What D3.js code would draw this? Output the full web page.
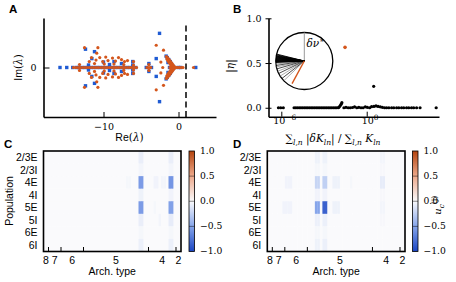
<!DOCTYPE html>
<html><head><meta charset="utf-8">
<script src="https://cdn.jsdelivr.net/npm/d3@7"></script>
<style>body{margin:0;background:#fff}svg{display:block}</style>
</head><body>
<svg id="c" width="456" height="282"></svg>
<script>
// ---------------- DATA ----------------
// Panel A: eigenvalues [Re, Im]
const eigOriginal = [ // blue squares
 [-15.8,0],[-14.9,0],[-14.1,0],[-13.6,0],[-13.3,0],[-12.9,0],[-12.5,0],[-12.1,0],[-11.7,0],[-11.3,0],[-10.9,0],[-10.5,0],[-10.1,0],[-9.7,0],[-9.3,0],[-8.9,0],[-8.5,0],[-8.1,0],[-7.7,0],[-7.3,0],[-6.9,0],[-6.5,0],[-6.1,0],[-5.7,0],
 [-12.4,0.37],[-12.4,-0.37],[-11.2,0.32],[-11.2,-0.32],[-11.55,0.18],[-11.55,-0.18],[-12.0,0.05],[-12.0,-0.05],
 [-10.0,0.11],[-10.0,-0.11],[-8.6,0.12],[-8.6,-0.12],[-9.2,0.06],[-9.2,-0.06],[-7.6,0.08],[-7.6,-0.08],
 [-6.1,0.12],[-6.1,-0.12],[-6.1,0.05],[-6.1,-0.05],
 [-4.3,0],[-3.6,0],[-3.95,0.08],[-3.95,-0.08],[-2.53,0.69],[-2.53,-0.69],[-2.97,0.18],[-2.97,-0.18],[2.3,0],
 [-1.65,0.23],[-1.65,-0.23],[-1.5,0.2],[-1.5,-0.2],[-1.3,0.16],[-1.3,-0.16],[-1.1,0.12],[-1.1,-0.12],
 [-0.95,0.08],[-0.95,-0.08],[-0.8,0.04],[-0.8,-0.04],[-0.5,0],[-0.8,0],[-1.2,0],[-1.4,0.1],[-1.4,-0.1],[0.0,0],[0.3,0]
];
const eigPerturbed = [ // orange circles
 [-14.0,0],[-13.7,0],[-13.4,0],[-13.1,0],[-12.8,0],[-12.5,0],[-12.2,0],[-11.9,0],[-11.6,0],[-11.3,0],[-11.0,0],[-10.7,0],[-10.4,0],[-10.1,0],[-9.8,0],[-9.5,0],[-9.2,0],[-8.9,0],[-8.6,0],[-8.3,0],[-8.0,0],[-7.7,0],[-7.4,0],[-7.1,0],[-6.8,0],[-6.5,0],[-6.2,0],[-5.9,0],[-5.6,0],
 [-13.2,0.06],[-13.2,-0.06],[-12.53,0.40],[-12.53,-0.40],[-10.75,0.40],[-10.75,-0.40],[-10.9,0.29],[-10.9,-0.29],
 [-11.9,0.12],[-11.9,-0.12],[-11.6,0.2],[-11.6,-0.2],[-11.0,0.15],[-11.0,-0.15],[-10.5,0.2],[-10.5,-0.2],
 [-10.1,0.12],[-10.1,-0.12],[-9.7,0.21],[-9.7,-0.21],[-9.4,0.14],[-9.4,-0.14],[-8.8,0.19],[-8.8,-0.19],
 [-8.4,0.13],[-8.4,-0.13],[-8.0,0.2],[-8.0,-0.2],[-7.6,0.16],[-7.6,-0.16],[-7.2,0.12],[-7.2,-0.12],
 [-6.8,0.14],[-6.8,-0.14],[-6.0,0.12],[-6.0,-0.12],[-11.2,0.08],[-11.2,-0.08],[-9.9,0.07],[-9.9,-0.07],
 [-8.6,0.07],[-8.6,-0.07],[-7.3,0.06],[-7.3,-0.06],[-6.0,0.05],[-6.0,-0.05],
 [-4.2,0],[-3.95,0],[-3.7,0],[-3.95,0.06],[-3.95,-0.06],
 [-2.97,0.45],[-2.97,-0.45],[-2.0,0.35],[-2.0,-0.36],[-2.35,0.11],[-2.35,-0.11],[-2.1,0],[2.0,0],
 [-1.62,0.22],[-1.62,-0.22],[-1.48,0.2],[-1.48,-0.2],[-1.38,0.18],[-1.38,-0.18],[-1.55,0.17],[-1.55,-0.17],
 [-1.28,0.16],[-1.28,-0.16],[-1.42,0.14],[-1.42,-0.14],[-1.18,0.14],[-1.18,-0.14],[-1.08,0.12],[-1.08,-0.12],
 [-1.3,0.11],[-1.3,-0.11],[-0.98,0.1],[-0.98,-0.1],[-1.18,0.09],[-1.18,-0.09],[-0.88,0.08],[-0.88,-0.08],
 [-0.78,0.06],[-0.78,-0.06],[-1.05,0.06],[-1.05,-0.06],[-0.68,0.04],[-0.68,-0.04],[-0.95,0.03],[-0.95,-0.03],
 [-0.55,0.02],[-0.55,-0.02],[-0.45,0],[-0.7,0],[-0.95,0],[-1.15,0],
 [-0.3,0],[-0.1,0],[0.15,0],[0.4,0],[0.6,0]
];
const reLim = [-18, 5], imLim = [-1, 1];
const reTicks = [-10, 0], imTicks = [0];
const stabilityLine = 1;

// Panel B: [relative change, |eta|]
const etaPoints = [
 [6.3e-7,0],[9.1e-7,0],[1.38e-6,0],
 [7.9e-6,0],[1.05e-5,0],[1.38e-5,0],[1.82e-5,0],[2.4e-5,0],[3.16e-5,0],[4.17e-5,0],[5.5e-5,0],[7.24e-5,0],[9.55e-5,0],
 [1.26e-4,0],[1.66e-4,0],[2.19e-4,0],[2.88e-4,0],[3.8e-4,0],[5.0e-4,0],[6.6e-4,0],[8.7e-4,0],[1.15e-3,0],[1.51e-3,0],
 [2.0e-3,0],[2.63e-3,0],[3.47e-3,0],[4.57e-3,0],[6.03e-3,0],[7.94e-3,0],[1.05e-2,0.002],
 [1.2e-2,0.01],[1.4e-2,0.025],[1.6e-2,0.04],[1.8e-2,0.057],
 [2.5e-2,0],[3.5e-2,0.005],[5e-2,0],[7e-2,0],[0.1,0.003],[0.14,0.01],[0.2,0],[0.28,0.005],[0.4,0],[0.56,0],
 [0.8,0.01],[1.1,0.005],[1.6,0],[2.2,0.012],[3.2,0.015],[4.5,0.02],[6.3,0.015],[9,0.01],[12.6,0.005],[18,0],
 [25,0],[36,0],[56,0],[80,0],[126,0],[180,0],[280,0],[400,0],[630,0],[900,0],[1400,0],[2000,0],[3200,0],[5600,0],
 [7.6e4,0],[3.1,0.24]
];
const etaHighlight = [[0.030,0.675]];
const relLim = [1.26e-7, 1.2e5], etaLim = [-0.1, 1.0];
const relTicks = [1e-6, 1], etaTicks = [0, 0.5, 1.0];
// inset: eigenvector directions (degrees), relative to delta-nu* (90 deg)
const refAngle = 90;
const fanAngles = [166,167.5,169,170,171,172,173,174,175,176,177,178,179,180,181,182,183];
const fanAnglesThin = [186,189,192,196,201,206,212,218,224];
const fanThinGray = [true,false,true,false,true,false,true,false,true];
const topAngle = 241.5, topLength = 0.9;

// Panels C, D: heatmaps  [row, colFrom, colTo, value]
const populations = ["2/3E","2/3I","4E","4I","5E","5I","6E","6I"];
const archTypes = ["8","7","6","5","4","2"];
const archCounts = [2,5,9,26,11,2];
const cellsC = [
 [0,38,39,-0.07],[1,38,39,-0.03],[2,38,39,-0.55],[3,38,39,-0.05],[4,38,39,-0.55],[5,38,39,-0.07],[6,38,39,-0.02],[7,38,39,-0.06],
 [0,50,51,-0.07],[1,50,51,-0.03],[2,50,51,-0.58],[3,50,51,-0.04],[4,50,51,-0.52],[5,50,51,-0.08],[6,50,51,-0.02],[7,50,51,-0.06],
 [2,33,34,-0.02],[2,44,45,-0.04],[2,47,48,-0.03],[4,44,44,-0.02],[5,46,46,-0.03]
];
const cellsD = [
 [0,19,20,-0.05],[1,19,20,-0.02],[2,19,20,-0.22],[3,19,20,-0.04],[4,19,20,-0.5],[5,19,20,-0.06],[6,19,20,-0.02],[7,19,20,-0.05],
 [0,22,23,-0.05],[1,22,23,-0.02],[2,22,23,-0.25],[3,22,23,-0.04],[4,22,23,-0.85],[5,22,23,-0.06],[6,22,23,-0.02],[7,22,23,-0.06],
 [2,7,9,-0.04],[4,6,9,-0.04],[2,26,28,-0.05],[4,26,28,-0.05],[2,33,33,-0.02],
 [2,45,46,-0.08],[0,45,46,-0.03],[4,45,46,-0.03],[1,45,46,-0.015],[3,45,46,-0.015],[5,45,46,-0.015]
];
const cbTicks = [1.0, 0.5, 0.0, -0.5, -1.0];
const cmapStops = [[-1,"#1a45c2"],[-0.5,"#86a5ea"],[0,"#fafafc"],[0.5,"#eda98b"],[1,"#b4440e"]];

// ---------------- DRAW ----------------
const svg = d3.select("#c");
const serif = "'DejaVu Serif','Liberation Serif',serif";
const sans = "'Liberation Sans',Arial,sans-serif";
const ORANGE = "#d4561c", BLUE = "#1f5bd3";

function mtext(g, parts, size){
  // parts: [text, kind] kind: n normal serif, i italic serif, s sans, b sub, p sup
  let shift = 0;
  parts.forEach(([t,k])=>{
    const ts = g.append("tspan").text(t);
    let target = 0;
    if(k==="b"){ target = size*0.3; ts.attr("font-size", size*0.72).attr("font-style","italic").attr("font-family",serif); }
    else if(k==="p"){ target = -size*0.4; ts.attr("font-size", size*0.78).attr("font-family",serif); }
    else if(k==="i"){ ts.attr("font-style","italic").attr("font-family",serif); }
    else if(k==="s"){ ts.attr("font-family",sans); }
    else { ts.attr("font-family",serif); }
    ts.attr("dy", target-shift); shift = target;
  });
}
function letter(x,y,t){ svg.append("text").attr("x",x).attr("y",y).text(t)
  .attr("font-family",sans).attr("font-weight","bold").attr("font-size",11.5); }

// ---- Panel A ----
const xA = d3.scaleLinear().domain(reLim).range([43.5,216]);
const yA = d3.scaleLinear().domain(imLim).range([117,18]);
const gA = svg.append("g");
gA.append("line").attr("x1",xA(stabilityLine)).attr("x2",xA(stabilityLine))
  .attr("y1",yA(imLim[0])).attr("y2",yA(0.86)).attr("stroke","#000").attr("stroke-width",1.5).attr("stroke-dasharray","6,3.5");
gA.selectAll("rect.o").data(eigOriginal).join("rect")
  .attr("x",d=>xA(d[0])-1.7).attr("y",d=>yA(d[1])-1.7).attr("width",3.4).attr("height",3.4).attr("fill",BLUE);
gA.selectAll("circle").data(eigPerturbed).join("circle")
  .attr("cx",d=>xA(d[0])).attr("cy",d=>yA(d[1])).attr("r",1.6).attr("fill",ORANGE);
const axA = gA.append("g").attr("transform",`translate(0,${yA.range()[0]})`)
  .call(d3.axisBottom(xA).tickValues(reTicks).tickSizeInner(-5).tickSizeOuter(0).tickPadding(6).tickFormat(d3.format("d")));
const ayA = gA.append("g").attr("transform",`translate(${xA.range()[0]},0)`)
  .call(d3.axisLeft(yA).tickValues(imTicks).tickSizeInner(-6).tickSizeOuter(0).tickPadding(7).tickFormat(d3.format("d")));
[axA,ayA].forEach(a=>{a.select(".domain").attr("stroke-width",1.6);
  a.selectAll(".tick line").attr("stroke-width",1);
  a.selectAll("text").attr("font-family",serif).attr("font-size",9.5).attr("fill","#000");});
{ const t = svg.append("text").attr("x",129.5).attr("y",140.5).attr("text-anchor","middle").attr("font-size",10.5);
  mtext(t,[["Re","s"],["(","n"],["λ","i"],[")","n"]],10.5); }
{ const t = svg.append("text").attr("transform","translate(21.5,67.5) rotate(-90)").attr("text-anchor","middle").attr("font-size",10.5);
  mtext(t,[["Im","s"],["(","n"],["λ","i"],[")","n"]],10.5); }
letter(9,13,"A");

// ---- Panel B ----
const xB = d3.scaleLog().domain(relLim).range([268.5,439]);
const yB = d3.scaleLinear().domain(etaLim).range([116.7,18.3]);
const gB = svg.append("g");
gB.selectAll("circle.e").data(etaPoints).join("circle")
  .attr("cx",d=>xB(d[0])).attr("cy",d=>yB(d[1])).attr("r",1.6).attr("fill","#000");
gB.selectAll("circle.h").data(etaHighlight).join("circle").attr("class","h")
  .attr("cx",d=>xB(d[0])).attr("cy",d=>yB(d[1])).attr("r",1.8).attr("fill",ORANGE);
const axB = gB.append("g").attr("transform",`translate(0,${yB.range()[0]})`)
  .call(d3.axisBottom(xB).tickValues(relTicks).tickSizeInner(-5).tickSizeOuter(0).tickPadding(7).tickFormat(()=>""));
const ayB = gB.append("g").attr("transform",`translate(${xB.range()[0]},0)`)
  .call(d3.axisLeft(yB).tickValues(etaTicks).tickSizeInner(3).tickSizeOuter(0).tickPadding(4).tickFormat(d3.format(".1f")));
ayB.selectAll(".tick line").attr("x1",3);
[axB,ayB].forEach(a=>{a.select(".domain").attr("stroke-width",1.6);
  a.selectAll(".tick line").attr("stroke-width",1);
  a.selectAll("text").attr("font-family",serif).attr("font-size",9.5).attr("fill","#000");});
axB.selectAll(".tick text").each(function(d){
  const t = d3.select(this).attr("dx","0.3em"); mtext(t,[["10","n"],[d3.format("d")(Math.round(Math.log10(d))),"p"]],9.5); });
{ const t = svg.append("text").attr("x",333).attr("y",142).attr("text-anchor","middle").attr("font-size",10.5);
  mtext(t,[["∑","n"],["l,n","b"],[" |","n"],["δK","i"],["ln","b"],["| / ∑","n"],["l,n","b"],[" ","n"],["K","i"],["ln","b"]],10.5); }
{ const t = svg.append("text").attr("transform","translate(233.5,66) rotate(-90)").attr("text-anchor","middle").attr("font-size",10.5);
  mtext(t,[["|","n"],["η","i"],["|","n"]],10.5); }
// inset
const inset = {cx:304.3, cy:61, r:28.5};
const rS = d3.scaleLinear().domain([0,1]).range([0,inset.r]);
const gI = svg.append("g").attr("transform",`translate(${inset.cx},${inset.cy})`);
gI.append("circle").attr("r",rS(1)).attr("fill","#fff").attr("stroke","#000").attr("stroke-width",1.3);
const rad = a=>a*Math.PI/180;
gI.append("line").attr("x2",rS(1)*Math.cos(rad(refAngle))).attr("y2",-rS(1)*Math.sin(rad(refAngle)))
  .attr("stroke","#999").attr("stroke-width",1);
gI.selectAll("line.t").data(fanAnglesThin).join("line").attr("class","t")
  .attr("x2",a=>rS(1)*Math.cos(rad(a))).attr("y2",a=>-rS(1)*Math.sin(rad(a)))
  .attr("stroke",(a,i)=>fanThinGray[i]?"#888":"#000").attr("stroke-width",0.7);
gI.selectAll("line.f").data(fanAngles).join("line").attr("class","f")
  .attr("x2",a=>rS(1)*Math.cos(rad(a))).attr("y2",a=>-rS(1)*Math.sin(rad(a)))
  .attr("stroke","#000").attr("stroke-width",0.9);
gI.append("line").attr("x2",rS(topLength)*Math.cos(rad(topAngle))).attr("y2",-rS(topLength)*Math.sin(rad(topAngle)))
  .attr("stroke",ORANGE).attr("stroke-width",1.4);
{ const t = svg.append("text").attr("x",306.5).attr("y",47).attr("font-size",10.5);
  mtext(t,[["δν","i"],["∗","p"]],10.5); }
letter(233,13,"B");

// ---- Panels C & D ----
const cmap = d3.scaleLinear().domain(cmapStops.map(d=>d[0])).range(cmapStops.map(d=>d[1])).clamp(true);
const nCols = d3.sum(archCounts);
const bounds = d3.cumsum(archCounts);
const defs = svg.append("defs");
defs.append("filter").attr("id","blur").attr("x","-5%").attr("y","-5%").attr("width","110%").attr("height","110%")
  .append("feGaussianBlur").attr("stdDeviation",0.55);
const grad = defs.append("linearGradient").attr("id","cbgrad").attr("x1",0).attr("y1",1).attr("x2",0).attr("y2",0);
cmapStops.forEach(([v,c])=>grad.append("stop").attr("offset",(v+1)/2).attr("stop-color",c));

function heatmap(x0,x1,cells,cbX,id,cbLabel){
  const xH = d3.scaleLinear().domain([0,nCols]).range([x0,x1]);
  const yH = d3.scaleBand().domain(populations).range([151,251.5]);
  const matrix = populations.map(()=>new Array(nCols).fill(0));
  cells.forEach(([r,a,b,v])=>{ for(let c=a;c<=b;c++) matrix[r][c]=v; });
  const flat = [];
  matrix.forEach((row,r)=>row.forEach((v,c)=>flat.push({r,c,v})));
  defs.append("clipPath").attr("id","clip"+id).append("rect")
    .attr("x",x0).attr("y",151).attr("width",x1-x0).attr("height",100.5);
  const g = svg.append("g").attr("clip-path",`url(#clip${id})`);
  g.append("g").attr("filter","url(#blur)").selectAll("rect").data(flat).join("rect")
    .attr("x",d=>xH(d.c)).attr("y",d=>yH(populations[d.r]))
    .attr("width",xH(1)-xH(0)+0.3).attr("height",yH.bandwidth()+0.3).attr("fill",d=>cmap(d.v));
  // ticks (inward) at arch-type boundaries
  svg.append("g").selectAll("line").data(bounds.slice(0,-1)).join("line")
    .attr("x1",d=>xH(d)).attr("x2",d=>xH(d)).attr("y1",251.5).attr("y2",247)
    .attr("stroke","#000").attr("stroke-width",1);
  svg.append("rect").attr("x",x0).attr("y",151).attr("width",x1-x0).attr("height",100.5)
    .attr("fill","none").attr("stroke","#000").attr("stroke-width",1.6);
  // labels
  svg.append("g").selectAll("text").data(populations).join("text")
    .attr("x",x0-6).attr("y",d=>yH(d)+yH.bandwidth()/2).attr("dy","0.36em").attr("text-anchor","end")
    .attr("font-family",sans).attr("font-size",10.5).text(d=>d);
  svg.append("g").selectAll("text").data(archTypes).join("text")
    .attr("x",(d,i)=>xH(bounds[i]-archCounts[i]/2)).attr("y",263.5).attr("text-anchor","middle")
    .attr("font-family",sans).attr("font-size",10.5).text(d=>d);
  svg.append("text").attr("x",(x0+x1)/2).attr("y",274.5).attr("text-anchor","middle")
    .attr("font-family",sans).attr("font-size",10.5).text("Arch. type");
  // colorbar
  const yC = d3.scaleLinear().domain([-1,1]).range([251.5,151]);
  svg.append("rect").attr("x",cbX).attr("y",yC(1)).attr("width",5.5).attr("height",yC(-1)-yC(1))
    .attr("fill","url(#cbgrad)").attr("stroke","#000").attr("stroke-width",0.8);
  svg.append("g").selectAll("line").data(cbTicks.filter(v=>Math.abs(v)<1)).join("line")
    .attr("x1",cbX).attr("x2",cbX+5.5).attr("y1",d=>yC(d)).attr("y2",d=>yC(d))
    .attr("stroke","#000").attr("stroke-opacity",0.45).attr("stroke-width",1);
  svg.append("g").selectAll("text").data(cbTicks).join("text")
    .attr("x",cbX+11).attr("y",d=>yC(d)).attr("dy","0.32em")
    .attr("font-family",serif).attr("font-size",9.2).text(d=>d3.format(".1f")(d));
  if(cbLabel){
    const t = svg.append("text").attr("transform",`translate(${cbX+28.5},${yC(0)+4}) rotate(-90)`)
      .attr("text-anchor","middle").attr("font-size",10);
    mtext(t,[["u","i"],["c","b"],["(j)","p"]],10);
  }
}
heatmap(43.5,181,cellsC,189,"C",false);
heatmap(267.3,405,cellsD,412.5,"D",true);
{ svg.append("text").attr("transform","translate(12.5,201) rotate(-90)").attr("text-anchor","middle")
    .attr("font-family",sans).attr("font-size",10.5).text("Population"); }
letter(4,148,"C");
letter(233,148,"D");
</script>
</body></html>
